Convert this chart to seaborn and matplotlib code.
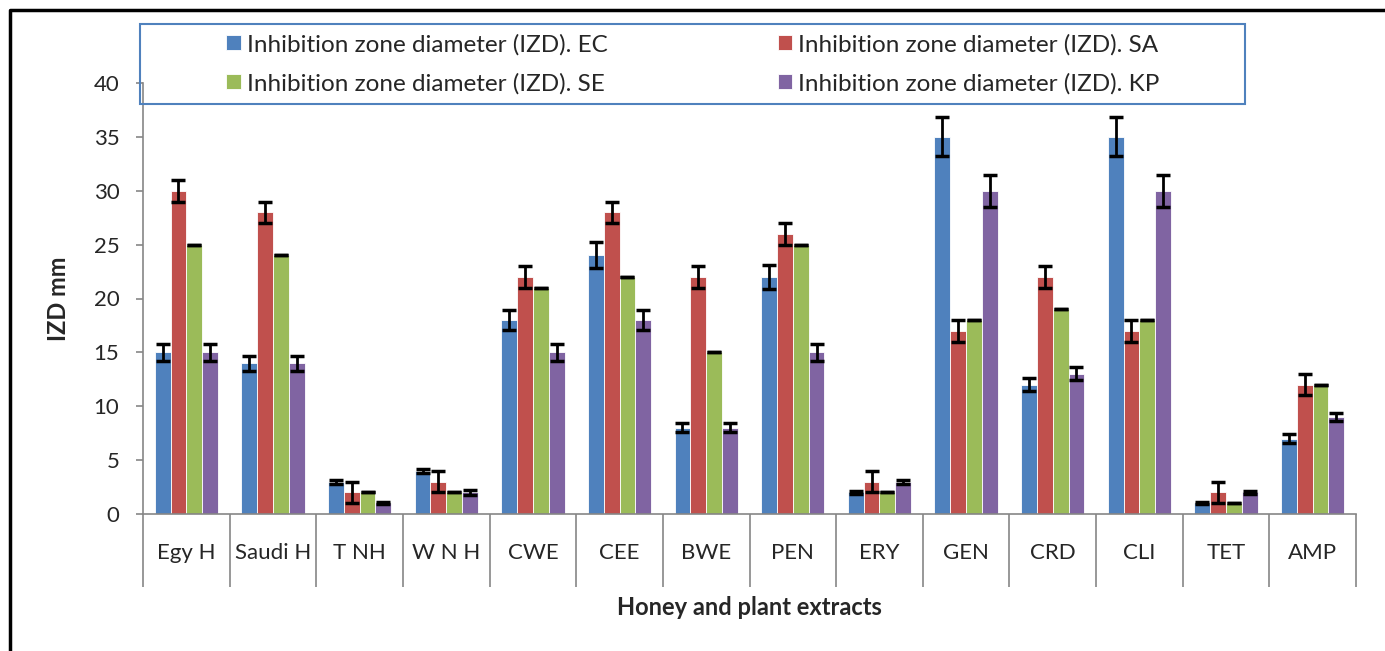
import numpy as np
import pandas as pd
import matplotlib
matplotlib.use("Agg")
import matplotlib.pyplot as plt
import seaborn as sns
from matplotlib.lines import Line2D
from matplotlib.patches import Rectangle

# data
categories = ["Egy H", "Saudi H", "T NH", "W N H", "CWE", "CEE", "BWE",
              "PEN", "ERY", "GEN", "CRD", "CLI", "TET", "AMP"]
series = ["Inhibition zone diameter (IZD). EC", "Inhibition zone diameter (IZD). SA",
          "Inhibition zone diameter (IZD). SE", "Inhibition zone diameter (IZD). KP"]

ec = [15, 14, 3, 4, 18, 24, 8, 22, 2, 35, 12, 35, 1, 7]
sa = [30, 28, 2, 3, 22, 28, 22, 26, 3, 17, 22, 17, 2, 12]
se = [25, 24, 2, 2, 21, 22, 15, 25, 2, 18, 19, 18, 1, 12]
kp = [15, 14, 1, 2, 15, 18, 8, 15, 3, 30, 13, 30, 2, 9]

ec_err = [0.8, 0.7, 0.2, 0.2, 0.9, 1.2, 0.4, 1.1, 0.1, 1.8, 0.6, 1.8, 0.1, 0.4]
sa_err = [1.0, 1.0, 1.0, 1.0, 1.0, 1.0, 1.0, 1.0, 1.0, 1.0, 1.0, 1.0, 1.0, 1.0]
se_err = [0, 0, 0, 0, 0, 0, 0, 0, 0, 0, 0, 0, 0, 0]
kp_err = [0.8, 0.7, 0.1, 0.2, 0.8, 0.9, 0.4, 0.8, 0.2, 1.5, 0.6, 1.5, 0.1, 0.4]

colors = ["#4F81BD", "#C0504D", "#9BBB59", "#8064A2"]

values = [ec, sa, se, kp]
errors = [ec_err, sa_err, se_err, kp_err]

df = pd.DataFrame({
    "cat": np.tile(categories, 4),
    "series": np.repeat(series, len(categories)),
    "val": np.concatenate(values),
})

sns.set_style("white")
plt.rcParams["font.family"] = ["Lato", "DejaVu Sans"]

fig = plt.figure(figsize=(13.85, 6.51), dpi=100)
ax = fig.add_axes([143 / 1385, 1 - 514 / 651, (1356 - 143) / 1385, (514 - 83) / 651])

sns.barplot(data=df, x="cat", y="val", hue="series", order=categories,
            hue_order=series, palette=colors, width=0.73, errorbar=None,
            saturation=1, edgecolor="white", linewidth=0.6, ax=ax)

# error bars on top of the seaborn bars
for cont, err in zip(ax.containers, errors):
    xs = [p.get_x() + p.get_width() / 2 for p in cont.patches]
    hs = [p.get_height() for p in cont.patches]
    ax.errorbar(xs, hs, yerr=err, fmt="none", ecolor="black", elinewidth=2,
                capsize=5, capthick=2.5, zorder=5)

handles, labels = ax.get_legend_handles_labels()
ax.get_legend().remove()

ax.set_ylim(0, 40)
ax.set_xlim(-0.5, len(categories) - 0.5)
ax.set_yticks(range(0, 41, 5))
ax.tick_params(axis="y", direction="out", length=5, width=1.2, color="#868686",
               labelsize=16, pad=12, left=True)

# category boxes: long major ticks at boundaries, labels at centers
ax.set_xticks(np.arange(-0.5, len(categories), 1.0))
ax.set_xticklabels([])
ax.set_xticks(np.arange(len(categories)), minor=True)
ax.set_xticklabels(categories, minor=True)
ax.tick_params(axis="x", which="major", direction="out", length=52.5, width=1.2,
               color="#868686", bottom=True)
ax.tick_params(axis="x", which="minor", length=0, labelsize=16, pad=21)

for s in ["top", "right"]:
    ax.spines[s].set_visible(False)
for s in ["left", "bottom"]:
    ax.spines[s].set_color("#868686")
    ax.spines[s].set_linewidth(1.2)

ax.set_xlabel("Honey and plant extracts", fontsize=17, fontweight="bold")
ax.xaxis.set_label_coords(0.5, -0.216)
ax.xaxis.label.set_va("center")
ax.set_ylabel("IZD mm", fontsize=17, fontweight="bold")
ax.yaxis.set_label_coords(-0.070, 0.5)
ax.yaxis.label.set_va("center")

# legend in row order (EC, SA / SE, KP), square frame drawn separately
order = [0, 2, 1, 3]
fig.legend([handles[i] for i in order], [labels[i] for i in order],
           loc="center left", ncol=2, bbox_to_anchor=(226 / 1385, 1 - 64 / 651),
           frameon=False, fontsize=17.5, handlelength=0.6, handleheight=0.6,
           handletextpad=0.25, labelspacing=0.72, columnspacing=7.0,
           borderpad=0, borderaxespad=0)
fig.add_artist(Rectangle((140 / 1385, 1 - 104 / 651), 1105 / 1385, 80 / 651,
                         transform=fig.transFigure, fill=False,
                         edgecolor="#4F81BD", linewidth=1.5, zorder=10))

# outer chart border (left and top)
fig.add_artist(Line2D([10 / 1385, 10 / 1385, 1.0], [0.0, 1 - 10 / 651, 1 - 10 / 651],
                      transform=fig.transFigure, color="black", linewidth=2.5))

fig.savefig("out.png", dpi=100)
